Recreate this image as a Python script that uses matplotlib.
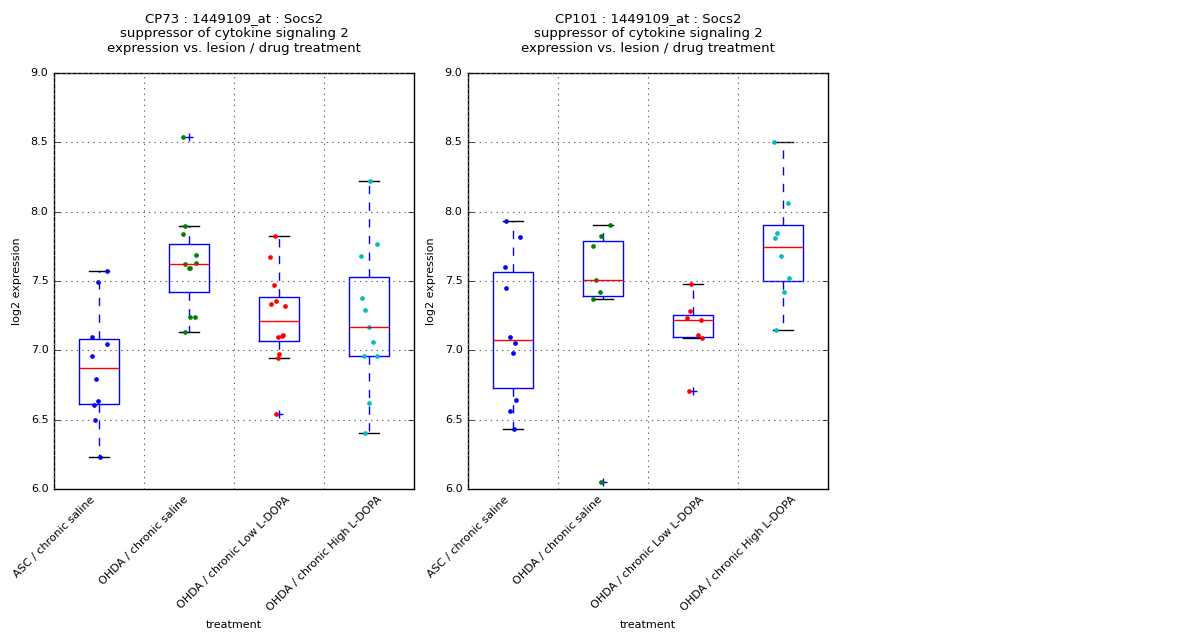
import matplotlib
matplotlib.use("Agg")
import matplotlib.pyplot as plt

treatments = ["ASC / chronic saline", "OHDA / chronic saline",
              "OHDA / chronic Low L-DOPA", "OHDA / chronic High L-DOPA"]
point_colors = ["b", "g", "r", "c"]

# CP73 values per group
cp73 = [
    [7.572, 7.493, 7.095, 7.045, 6.958, 6.792, 6.633, 6.604, 6.495, 6.233],
    [8.541, 7.895, 7.840, 7.688, 7.628, 7.623, 7.594, 7.594, 7.240, 7.240, 7.129],
    [7.823, 7.673, 7.471, 7.353, 7.334, 7.317, 7.095, 7.100, 7.107, 6.970, 6.948, 6.543],
    [8.220, 7.767, 7.681, 7.377, 7.290, 7.167, 7.059, 6.958, 6.958, 6.618, 6.401],
]
# horizontal jitter of each dot (box units)
cp73_jitter = [
    [0.087, -0.009, -0.080, 0.087, -0.080, -0.031, -0.009, -0.057, -0.043, 0.009],
    [-0.063, -0.048, -0.063, 0.081, 0.081, -0.048, 0.000, 0.015, 0.007, 0.070, -0.048],
    [-0.048, -0.096, -0.059, -0.037, -0.085, 0.070, -0.007, 0.033, 0.041, 0.004, -0.007, -0.030],
    [0.015, 0.085, -0.085, -0.074, -0.041, 0.004, 0.048, -0.052, 0.093, 0.004, -0.041],
]

# CP101 values per group
cp101 = [
    [7.934, 7.818, 7.601, 7.449, 7.095, 7.052, 6.980, 6.640, 6.560, 6.430],
    [7.905, 7.825, 7.753, 7.507, 7.420, 7.370, 6.047],
    [7.478, 7.281, 7.230, 7.216, 7.110, 7.088, 6.705],
    [8.505, 8.064, 7.847, 7.811, 7.681, 7.522, 7.420, 7.143],
]
cp101_jitter = [
    [-0.076, 0.080, -0.091, -0.076, -0.031, 0.020, 0.002, 0.031, -0.035, 0.009],
    [0.081, -0.026, -0.107, -0.081, -0.030, -0.107, -0.026],
    [-0.026, -0.037, -0.070, 0.085, 0.052, 0.096, -0.041],
    [-0.104, 0.059, -0.063, -0.093, -0.019, 0.070, 0.015, -0.074],
]

titles = ["CP73 : 1449109_at : Socs2\nsuppressor of cytokine signaling 2\nexpression vs. lesion / drug treatment",
          "CP101 : 1449109_at : Socs2\nsuppressor of cytokine signaling 2\nexpression vs. lesion / drug treatment"]

plt.style.use("classic")
plt.rcParams["font.family"] = ["DejaVu Sans"]
plt.rcParams["font.size"] = 8

fig = plt.figure(figsize=(12, 6.4), dpi=100, facecolor="white")
rects = [[0.045, 0.236, 0.30, 0.650], [0.39, 0.236, 0.30, 0.650]]

for rect, data, jit, title in zip(rects, [cp73, cp101], [cp73_jitter, cp101_jitter], titles):
    ax = fig.add_axes(rect)
    ax.set_facecolor("white")
    ax.boxplot(data, positions=[1, 2, 3, 4], widths=0.45,
               flierprops=dict(marker="+", markeredgecolor="b", markersize=6))
    for i, (vals, offs) in enumerate(zip(data, jit)):
        xs = [i + 1 + o for o in offs]
        ax.plot(xs, vals, "o", color=point_colors[i], mec=point_colors[i],
                markersize=2.8, linestyle="none")
    ax.set_xlim(0.5, 4.5)
    ax.set_ylim(6.0, 9.0)
    ax.set_yticks([6.0, 6.5, 7.0, 7.5, 8.0, 8.5, 9.0])
    # labels sit on the ticks between boxes, as in the original figure
    ax.set_xticks([0.5, 1.5, 2.5, 3.5])
    ax.set_xticklabels(treatments, rotation=45, ha="center")
    ax.tick_params(axis="x", which="major", length=0, pad=4)
    ax.tick_params(axis="both", labelsize=8)
    ax.grid(True, which="major", color="0.4", linestyle=":", linewidth=0.8)
    ax.set_xlabel("treatment", fontsize=8)
    ax.set_ylabel("log2 expression", fontsize=8, labelpad=6)
    ax.set_title(title, fontsize=9.5, pad=15)

fig.savefig("out.png", dpi=100, facecolor="white")
